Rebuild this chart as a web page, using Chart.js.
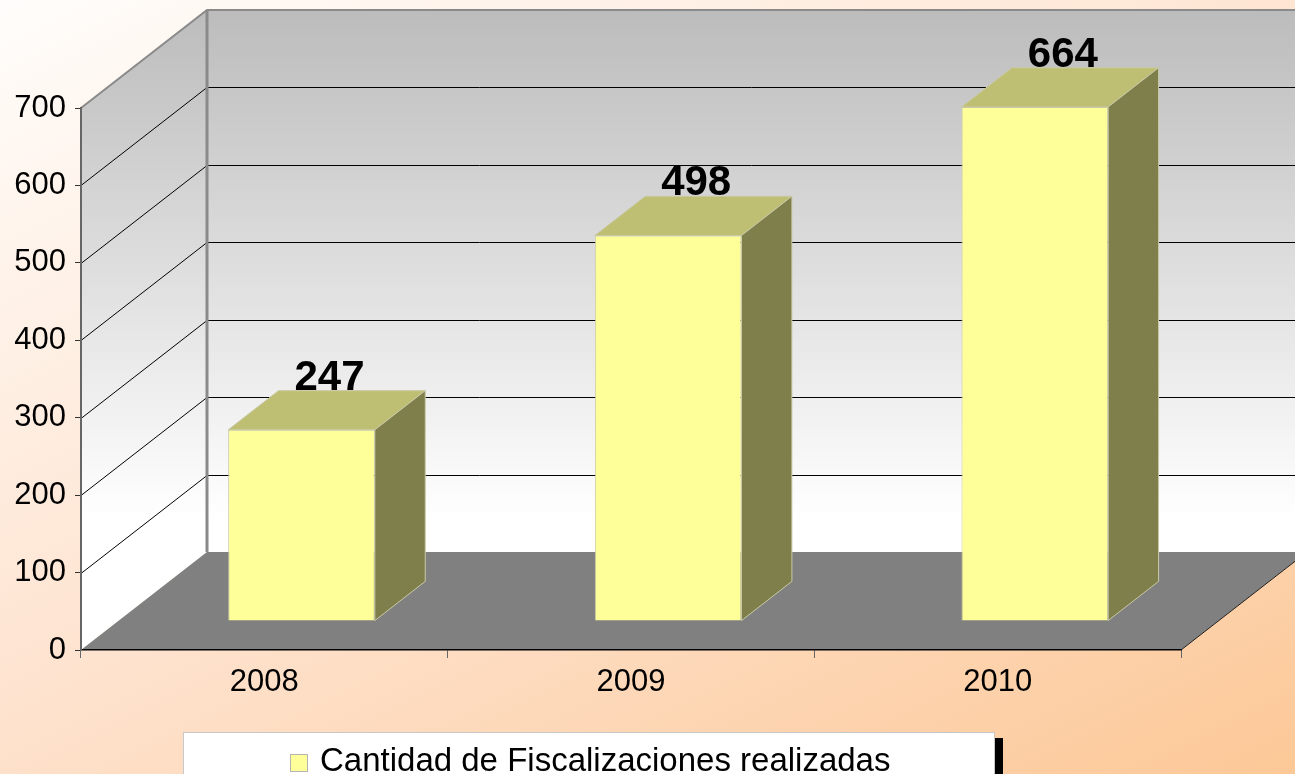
<!DOCTYPE html>
<html><head><meta charset="utf-8">
<script src="https://cdn.jsdelivr.net/npm/chart.js@4.4.1/dist/chart.umd.min.js"></script>
<style>html,body{margin:0;padding:0;overflow:hidden;background:#fff}canvas{display:block}</style>
</head><body>
<canvas id="c" width="1295" height="774"></canvas>
<script>
// ---- data ----
const categories = ['2008', '2009', '2010'];
const values = [247, 498, 664];
const seriesLabel = 'Cantidad de Fiscalizaciones realizadas';
const yMin = 0, yMax = 700, yStep = 100;

// ---- style ----
const FONT = "'Liberation Sans', Arial, sans-serif";
const DEPTH = {x: 126, y: -98};      // full depth of the 3D box
const BAR_FRONT = 0.295;             // bar front plane as fraction of depth
const BAR_DEPTH = 0.40;              // bar depth as fraction of depth
const SHIFT = {x: DEPTH.x * BAR_FRONT, y: DEPTH.y * BAR_FRONT};
const BD = {x: DEPTH.x * BAR_DEPTH, y: DEPTH.y * BAR_DEPTH};

const threeD = {
  id: 'threeD',
  beforeDraw(chart) {
    const ctx = chart.ctx, W = chart.width, H = chart.height;
    const ca = chart.chartArea, ys = chart.scales.y;
    ctx.save();
    // background
    const g = ctx.createLinearGradient(0, 0, 568.6, 1137.2);
    g.addColorStop(0, '#fffdfb');
    g.addColorStop(0.5, '#fee3cf');
    g.addColorStop(1, '#fcc897');
    ctx.fillStyle = g;
    ctx.fillRect(0, 0, W, H);

    const L = ca.left, R = ca.right;
    const yTopF = ys.getPixelForValue(yMax), yBotF = ys.getPixelForValue(yMin);
    const bL = L + DEPTH.x, bR = R + DEPTH.x;
    const yTopB = yTopF + DEPTH.y, yBotB = yBotF + DEPTH.y;

    const wg = ctx.createLinearGradient(0, yTopB, 0, yBotB);
    wg.addColorStop(0, '#bcbcbc');
    wg.addColorStop(0.94, '#ffffff');
    wg.addColorStop(1, '#ffffff');

    // back wall
    ctx.fillStyle = wg;
    ctx.fillRect(bL, yTopB, bR - bL + 10, yBotB - yTopB);
    // side wall
    ctx.beginPath();
    ctx.moveTo(L, yTopF); ctx.lineTo(bL, yTopB); ctx.lineTo(bL, yBotB); ctx.lineTo(L, yBotF);
    ctx.closePath(); ctx.fill();

    // gridlines
    ctx.strokeStyle = '#000'; ctx.lineWidth = 1;
    for (let v = yMin + yStep; v < yMax; v += yStep) {
      const yf = Math.round(ys.getPixelForValue(v)) + 0.5;
      const yb = yf + DEPTH.y;
      ctx.beginPath(); ctx.moveTo(L, yf); ctx.lineTo(bL, yb); ctx.lineTo(bR + 10, yb); ctx.stroke();
    }
    // floor
    ctx.fillStyle = '#808080';
    ctx.beginPath();
    ctx.moveTo(L, yBotF); ctx.lineTo(bL, yBotB); ctx.lineTo(bR, yBotB); ctx.lineTo(R, yBotF);
    ctx.closePath(); ctx.fill();
    ctx.strokeStyle = '#222'; ctx.lineWidth = 1;
    ctx.beginPath(); ctx.moveTo(R, yBotF); ctx.lineTo(bR, yBotB); ctx.stroke();

    // wall edges
    ctx.strokeStyle = '#8a8a8a'; ctx.lineWidth = 2;
    ctx.beginPath(); ctx.moveTo(L, yTopF); ctx.lineTo(bL, yTopB); ctx.lineTo(bR + 10, yTopB); ctx.stroke();
    ctx.lineWidth = 3;
    ctx.beginPath(); ctx.moveTo(bL, yTopB); ctx.lineTo(bL, yBotB); ctx.stroke();
    ctx.restore();
  },
  beforeDatasetsDraw(chart) {
    chart.ctx.save();
    chart.ctx.translate(SHIFT.x, SHIFT.y);
  },
  afterDatasetsDraw(chart) {
    const ctx = chart.ctx;
    ctx.restore();
    const meta = chart.getDatasetMeta(0);
    ctx.save();
    meta.data.forEach((bar, i) => {
      const p = bar.getProps(['x', 'y', 'base', 'width'], true);
      const xL = p.x - p.width / 2 + SHIFT.x, xR = p.x + p.width / 2 + SHIFT.x;
      const yT = p.y + SHIFT.y, yB = p.base + SHIFT.y;
      ctx.strokeStyle = '#c9c9a6'; ctx.lineWidth = 1;
      // top face
      ctx.fillStyle = '#bfbf74';
      ctx.beginPath();
      ctx.moveTo(xL, yT); ctx.lineTo(xR, yT); ctx.lineTo(xR + BD.x, yT + BD.y); ctx.lineTo(xL + BD.x, yT + BD.y);
      ctx.closePath(); ctx.fill(); ctx.stroke();
      // side face
      ctx.fillStyle = '#7f7f4b';
      ctx.beginPath();
      ctx.moveTo(xR, yT); ctx.lineTo(xR + BD.x, yT + BD.y); ctx.lineTo(xR + BD.x, yB + BD.y); ctx.lineTo(xR, yB);
      ctx.closePath(); ctx.fill(); ctx.stroke();
      // value label
      ctx.fillStyle = '#000';
      ctx.font = 'bold 42px ' + FONT;
      ctx.textAlign = 'center'; ctx.textBaseline = 'alphabetic';
      ctx.fillText(String(values[i]), (xL + xR) / 2 + 28, yT + BD.y - 1);
    });
    ctx.restore();
  },
  afterDraw(chart) {
    const ctx = chart.ctx;
    ctx.save();
    // legend box with shadow
    ctx.fillStyle = '#000';
    ctx.fillRect(191, 738, 812, 60);
    ctx.fillStyle = '#fff';
    ctx.fillRect(183, 732, 811, 60);
    ctx.strokeStyle = '#c8c8c8'; ctx.lineWidth = 1;
    ctx.strokeRect(183.5, 732.5, 811, 60);
    // marker
    ctx.fillStyle = chart.data.datasets[0].backgroundColor;
    ctx.fillRect(290.5, 754.5, 17, 17);
    ctx.strokeStyle = '#b4b4b4';
    ctx.strokeRect(290.5, 754.5, 17, 17);
    ctx.fillStyle = '#000';
    ctx.font = '33px ' + FONT;
    ctx.textAlign = 'left'; ctx.textBaseline = 'alphabetic';
    ctx.fillText(chart.data.datasets[0].label, 320, 771);
    ctx.restore();
  }
};

new Chart(document.getElementById('c'), {
  type: 'bar',
  data: {
    labels: categories,
    datasets: [{
      label: seriesLabel,
      data: values,
      backgroundColor: '#ffff99',
      borderColor: '#c9c9a6',
      borderWidth: 1,
      barPercentage: 0.4,
      categoryPercentage: 1,
      clip: false
    }]
  },
  options: {
    responsive: false,
    devicePixelRatio: 1,
    animation: false,
    layout: {padding: {left: 0, right: 114, top: 108, bottom: 0}},
    plugins: {legend: {display: false}, tooltip: {enabled: false}, title: {display: false}},
    scales: {
      x: {
        offset: true,
        afterFit(s) { s.height = 124; },
        grid: {drawOnChartArea: false, drawTicks: true, tickLength: 8, color: '#666', offset: true},
        border: {display: true, color: '#000', width: 1.5},
        ticks: {color: '#000', font: {family: FONT, size: 31}, padding: 6}
      },
      y: {
        min: yMin, max: yMax,
        afterFit(s) { s.width = 81; },
        grid: {drawOnChartArea: false, drawTicks: true, tickLength: 6, color: '#333'},
        border: {display: true, color: '#666', width: 2},
        ticks: {stepSize: yStep, color: '#000', font: {family: FONT, size: 31}, padding: 9}
      }
    }
  },
  plugins: [threeD]
});
</script>
</body></html>
